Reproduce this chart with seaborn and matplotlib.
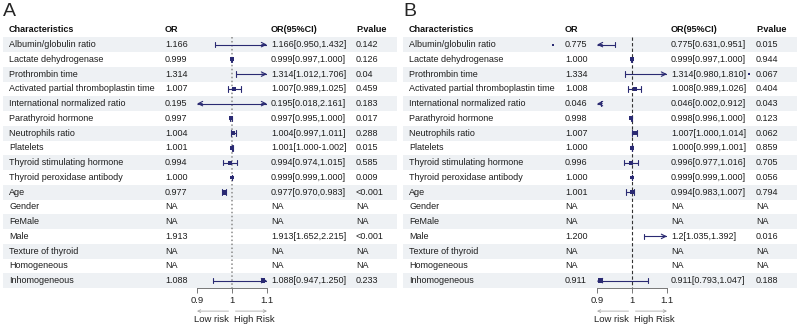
import numpy as np
import matplotlib
matplotlib.use('Agg')
import matplotlib.pyplot as plt
import seaborn as sns

sns.set_style("white")
plt.rcParams['font.family'] = ['Liberation Sans', 'DejaVu Sans']

names = ["Albumin/globulin ratio", "Lactate dehydrogenase", "Prothrombin time",
         "Activated partial thromboplastin time", "International normalized ratio",
         "Parathyroid hormone", "Neutrophils ratio", "Platelets",
         "Thyroid stimulating hormone", "Thyroid peroxidase antibody", "Age",
         "Gender", "FeMale", "Male", "Texture of thyroid", "Homogeneous", "Inhomogeneous"]
nan = np.nan

# panel A
a_or_txt = ["1.166", "0.999", "1.314", "1.007", "0.195", "0.997", "1.004", "1.001", "0.994",
            "1.000", "0.977", "NA", "NA", "1.913", "NA", "NA", "1.088"]
a_est = [1.166, 0.999, 1.314, 1.007, 0.195, 0.997, 1.004, 1.001, 0.994,
         1.000, 0.977, nan, nan, 1.913, nan, nan, 1.088]
a_lo = [0.950, 0.997, 1.012, 0.989, 0.018, 0.995, 0.997, 1.000, 0.974,
        0.999, 0.970, nan, nan, 1.652, nan, nan, 0.947]
a_hi = [1.432, 1.000, 1.706, 1.025, 2.161, 1.000, 1.011, 1.002, 1.015,
        1.000, 0.983, nan, nan, 2.215, nan, nan, 1.250]
a_ci_txt = ["1.166[0.950,1.432]", "0.999[0.997,1.000]", "1.314[1.012,1.706]", "1.007[0.989,1.025]",
            "0.195[0.018,2.161]", "0.997[0.995,1.000]", "1.004[0.997,1.011]", "1.001[1.000-1.002]",
            "0.994[0.974,1.015]", "0.999[0.999,1.000]", "0.977[0.970,0.983]", "NA", "NA",
            "1.913[1.652,2.215]", "NA", "NA", "1.088[0.947,1.250]"]
a_p = ["0.142", "0.126", "0.04", "0.459", "0.183", "0.017", "0.288", "0.015", "0.585",
       "0.009", "<0.001", "NA", "NA", "<0.001", "NA", "NA", "0.233"]
a_size = [0, 8, 0, 8, 0, 8, 9, 8, 8, 7, 12, 0, 0, 0, 0, 0, 10]

# panel B
b_or_txt = ["0.775", "1.000", "1.334", "1.008", "0.046", "0.998", "1.007", "1.000", "0.996",
            "1.000", "1.001", "NA", "NA", "1.200", "NA", "NA", "0.911"]
b_est = [0.775, 1.000, 1.334, 1.008, 0.046, 0.998, 1.007, 1.000, 0.996,
         1.000, 1.001, nan, nan, 1.200, nan, nan, 0.911]
b_lo = [0.631, 0.997, 0.980, 0.989, 0.002, 0.996, 1.000, 0.999, 0.977,
        0.999, 0.983, nan, nan, 1.035, nan, nan, 0.793]
b_hi = [0.951, 1.000, 1.810, 1.026, 0.912, 1.000, 1.014, 1.001, 1.016,
        1.000, 1.007, nan, nan, 1.392, nan, nan, 1.047]
b_ci_txt = ["0.775[0.631,0.951]", "0.999[0.997,1.000]", "1.314[0.980,1.810]", "1.008[0.989,1.026]",
            "0.046[0.002,0.912]", "0.998[0.996,1.000]", "1.007[1.000,1.014]", "1.000[0.999,1.001]",
            "0.996[0.977,1.016]", "0.999[0.999,1.000]", "0.994[0.983,1.007]", "NA", "NA",
            "1.2[1.035,1.392]", "NA", "NA", "0.911[0.793,1.047]"]
b_p = ["0.015", "0.944", "0.067", "0.404", "0.043", "0.123", "0.062", "0.859", "0.705",
       "0.056", "0.794", "NA", "NA", "0.016", "NA", "NA", "0.188"]
b_size = [2, 8, 2, 8, 0, 8, 9, 8, 8, 7, 10, 0, 0, 0, 0, 0, 12]

W, H = 798, 328
NAVY = '#2a2a72'
BAND = '#eef1f4'
FS = 6.5


def rect(x0, y0, x1, y1):
    return [x0 / W, 1 - y1 / H, (x1 - x0) / W, (y1 - y0) / H]


def panel(fig, off, letter, or_txt, est, lo, hi, ci_txt, pv, sizes, refstyle):
    top, bot = 22.5, 288
    tab = fig.add_axes(rect(off + 3, top, off + 397, bot))
    tab.set_xlim(off + 3, off + 397)
    tab.set_ylim(len(names) - 0.5, -1.5)
    tab.axis('off')
    fig.text((off + 3) / W, 1 - 12 / H, letter, fontsize=14, va='center', ha='left')

    cols = [off + 9, off + 165, off + 271, off + 356]
    for x, h in zip(cols, ["Characteristics", "OR", "OR(95%CI)", "P.value"]):
        tab.text(x, -1, h, fontsize=FS, fontweight='bold', va='center', color='#111111')
    for i in range(len(names)):
        if i % 2 == 0:
            tab.axhspan(i - 0.5, i + 0.5, color=BAND, lw=0, zorder=0)
        for x, t in zip(cols, [names[i], or_txt[i], ci_txt[i], pv[i]]):
            tab.text(x, i, t, fontsize=FS, va='center', color='#1e1e1e', zorder=3)

    # forest column
    ax = fig.add_axes(rect(off + 197, top, off + 267, bot))
    ax.patch.set_alpha(0)
    ax.set_xlim(0.9, 1.1)
    ax.set_ylim(len(names) - 0.5, -1.5)
    for s in ['top', 'left', 'right']:
        ax.spines[s].set_visible(False)
    ax.spines['bottom'].set_color('#777777')
    ax.spines['bottom'].set_linewidth(0.7)
    ax.set_yticks([])
    ax.set_xticks([0.9, 1.0, 1.1])
    ax.set_xticklabels(['0.9', '1', '1.1'])
    ax.tick_params(axis='x', bottom=True, length=3.5, width=0.7, color='#777777',
                   labelsize=FS + 0.3, pad=2, labelcolor='#222222')

    c, ls, lw = refstyle
    ax.plot([1, 1], [-0.5, len(names) - 0.5], color=c, ls=ls, lw=lw, zorder=1)

    for i in range(len(names)):
        if np.isnan(est[i]) or hi[i] < 0.9 or lo[i] > 1.1:
            continue
        x0, x1 = max(lo[i], 0.9), min(hi[i], 1.1)
        ax.plot([x0, x1], [i, i], color=NAVY, lw=0.8, zorder=2, solid_capstyle='butt')
        for edge, val, d in [(x0, lo[i], 1), (x1, hi[i], -1)]:
            if (d == 1 and val < 0.9) or (d == -1 and val > 1.1):
                ax.annotate('', xy=(edge, i), xytext=(edge + d * 0.015, i),
                            arrowprops=dict(arrowstyle='->', color=NAVY, lw=0.8,
                                            mutation_scale=8, shrinkA=0, shrinkB=0),
                            annotation_clip=False)
            else:
                ax.plot([edge, edge], [i - 0.18, i + 0.18], color=NAVY, lw=0.8, zorder=2)

    rows = [i for i in range(len(names)) if not np.isnan(est[i])]
    sns.scatterplot(x=[est[i] for i in rows], y=rows, s=[sizes[i] for i in rows],
                    marker='s', color=NAVY, edgecolor='none', ax=ax, zorder=4,
                    legend=False)
    pts = ax.collections[-1]
    pts.set_clip_box(tab.bbox)
    ax.set_xlabel('')
    ax.set_ylabel('')

    # risk direction arrows
    for a, b in [(0.99, 0.9), (1.01, 1.1)]:
        ax.annotate('', xy=(b, -0.087), xytext=(a, -0.087),
                    xycoords=('data', 'axes fraction'),
                    arrowprops=dict(arrowstyle='->', color='#aaaaaa', lw=0.6,
                                    mutation_scale=5, shrinkA=0, shrinkB=0))
    ax.text(0.941, -0.118, 'Low risk', transform=ax.get_xaxis_transform(),
            ha='center', va='center', fontsize=FS + 0.3, color='#222222')
    ax.text(1.063, -0.118, 'High Risk', transform=ax.get_xaxis_transform(),
            ha='center', va='center', fontsize=FS + 0.3, color='#222222')


fig = plt.figure(figsize=(W / 100, H / 100), dpi=100)
panel(fig, 0, 'A', a_or_txt, a_est, a_lo, a_hi, a_ci_txt, a_p, a_size,
      ('#8a8a8a', (0, (1, 1.6)), 1.1))
panel(fig, 400, 'B', b_or_txt, b_est, b_lo, b_hi, b_ci_txt, b_p, b_size,
      ('#333333', (0, (3, 2)), 0.8))
fig.savefig('out.png', dpi=100)
